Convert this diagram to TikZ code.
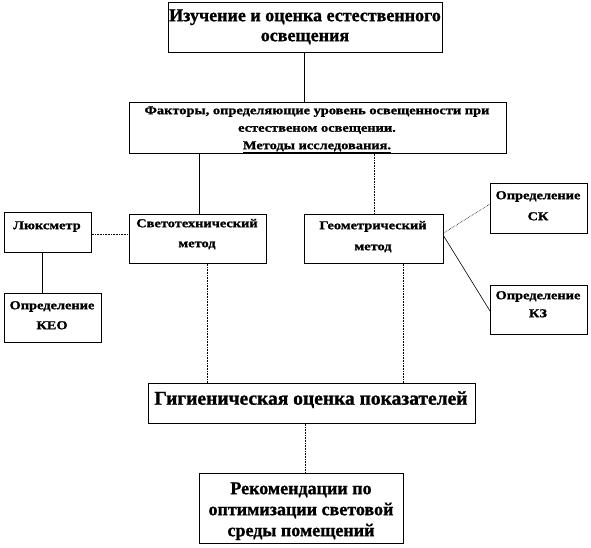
\documentclass[tikz,border=0pt]{standalone}
\usepackage{fontspec}
\setmainfont{Liberation Serif}[BoldFeatures={FakeBold=1.2}]
\newfontfamily\widefont{Liberation Serif}[FakeStretch=1.2,BoldFeatures={FakeBold=1.2}]
\newcommand{\tl}[1]{\rule{0pt}{#1}}
\begin{document}
\begin{tikzpicture}[x=1pt,y=-1pt,
  frame/.style={draw=black,line width=0.7pt,anchor=north west,inner sep=0pt},
  txt/.style={anchor=north,inner sep=0pt,align=center},
  bigtxt/.style={font=\fontsize{18}{20}\selectfont\bfseries},
  small/.style={font=\widefont\fontsize{12}{#1}\selectfont\bfseries},
  small/.default={20},
  conn/.style={line width=0.6pt},
  dconn/.style={line width=0.6pt,densely dotted}]
\useasboundingbox (0,0) rectangle (591,548);
% frames
\node[frame,minimum width=274pt,minimum height=50pt] (top) at (168,2) {};
\node[frame,minimum width=377pt,minimum height=51pt] (fact) at (129,102) {};
\node[frame,minimum width=87pt,minimum height=40pt] (lux) at (4,212) {};
\node[frame,minimum width=137pt,minimum height=49pt] (svet) at (129,214) {};
\node[frame,minimum width=97pt,minimum height=49pt] (keo) at (4,293) {};
\node[frame,minimum width=139pt,minimum height=49pt] (geo) at (304,214) {};
\node[frame,minimum width=97pt,minimum height=50pt] (sk) at (490,183) {};
\node[frame,minimum width=97pt,minimum height=49pt] (kz) at (490,285) {};
\node[frame,minimum width=327pt,minimum height=40pt] (hyg) at (148,383) {};
\node[frame,minimum width=204pt,minimum height=70pt] (rec) at (199,473) {};
% texts
\node[txt,bigtxt] (topt) at (305,3) {\tl{18pt}Изучение и оценка естественного\\освещения};
\node[txt,small=17.5] (factt) at (317,102) {\tl{12pt}Факторы, определяющие уровень освещенности при\\естественом освещении.\\\underline{Методы исследования.}};
\node[txt,small] (luxt) at (47,217) {\tl{12pt}Люксметр};
\node[txt,small=20] (svett) at (197,215) {\tl{12pt}Светотехнический\\метод};
\node[txt,small=20] (keot) at (52,297) {\tl{12pt}Определение\\КЕО};
\node[txt,small=21] (geot) at (373,217) {\tl{12pt}Геометрический\\метод};
\node[txt,small=21] (skt) at (538,187) {\tl{12pt}Определение\\СК};
\node[txt,small=18] (kzt) at (538,287) {\tl{12pt}Определение\\КЗ};
\node[txt,font=\fontsize{19.5}{22}\selectfont\bfseries] (hygt) at (311,385) {\tl{19.5pt}Гигиеническая оценка показателей};
\node[txt,font=\fontsize{18}{21}\selectfont\bfseries] (rect) at (301,476) {\tl{18pt}Рекомендации по\\оптимизации световой\\среды помещений};
% connectors
\draw[conn] (top.south -| 304,0) -- (fact.north -| 304,0);
\draw[conn] (fact.south -| 199,0) -- (svet.north -| 199,0);
\draw[dconn] (fact.south -| 374,0) -- (geo.north -| 374,0);
\draw[dconn] (lux.east |- 0,234) -- (svet.west |- 0,234);
\draw[conn] (lux.south -| 42,0) -- (keo.north -| 42,0);
\draw[dconn] (geo.east |- 0,233) -- (sk.west |- 0,204);
\draw[conn] (geo.east |- 0,236) -- (kz.west |- 0,311);
\draw[dconn] (svet.south -| 207,0) -- (hyg.north -| 207,0);
\draw[dconn] (geo.south -| 403,0) -- (hyg.north -| 403,0);
\draw[dconn] (hyg.south -| 305,0) -- (rec.north -| 305,0);
\end{tikzpicture}
\end{document}
